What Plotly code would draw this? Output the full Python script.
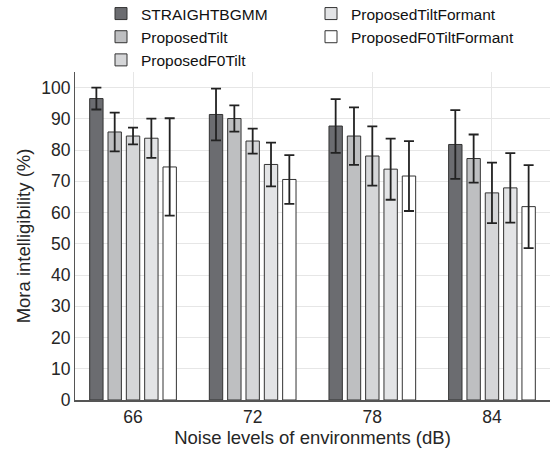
import plotly.graph_objects as go

categories = ["66", "72", "78", "84"]
series_names = ["STRAIGHTBGMM", "ProposedTilt", "ProposedF0Tilt",
                "ProposedTiltFormant", "ProposedF0TiltFormant"]

straight_mean = [96.5, 91.4, 87.7, 81.8]
straight_err = [3.5, 8.3, 8.6, 11.0]
tilt_mean = [85.8, 90.1, 84.5, 77.3]
tilt_err = [6.2, 4.2, 9.2, 7.7]
f0tilt_mean = [84.5, 82.9, 78.1, 66.3]
f0tilt_err = [2.7, 4.0, 9.5, 9.7]
tiltformant_mean = [83.8, 75.4, 73.9, 67.9]
tiltformant_err = [6.3, 7.0, 9.8, 11.1]
f0tiltformant_mean = [74.6, 70.6, 71.7, 61.9]
f0tiltformant_err = [15.6, 7.8, 11.2, 13.3]

means = [straight_mean, tilt_mean, f0tilt_mean, tiltformant_mean, f0tiltformant_mean]
errs = [straight_err, tilt_err, f0tilt_err, tiltformant_err, f0tiltformant_err]
fills = ["#6b6c70", "#bebfc1", "#d5d6d8", "#e3e4e6", "#ffffff"]
legends = ["legend", "legend", "legend", "legend2", "legend2"]

FONT = "Liberation Sans, Arial, Helvetica, sans-serif"
TXT = "#262626"

fig = go.Figure()
for name, m, e, c, lg in zip(series_names, means, errs, fills, legends):
    fig.add_trace(go.Bar(
        x=categories, y=m, name=name, legend=lg,
        marker=dict(color=c, line=dict(color="#333333", width=1)),
        error_y=dict(type="data", array=e, symmetric=True, visible=True,
                     color="#222222", thickness=1.8, width=5),
    ))

W, H = 550, 455
ml, mr, mt, mb = 75, 0, 72, 55
pw = W - ml - mr
ph = H - mt - mb
leg_top = (H - mb + 3) / ph

fig.update_layout(
    width=W, height=H,
    margin=dict(l=ml, r=mr, t=mt, b=mb, autoexpand=False),
    paper_bgcolor="white", plot_bgcolor="white",
    barmode="group", bargap=0.234, bargroupgap=0.27,
    font=dict(family=FONT, color=TXT, size=17),
    showlegend=True,
    legend=dict(x=26 / pw, y=leg_top,
                xanchor="left", yanchor="top", orientation="v",
                font=dict(size=15.5, family=FONT, color="#111111"),
                bgcolor="rgba(0,0,0,0)", tracegroupgap=0, itemwidth=30),
    legend2=dict(x=236 / pw, y=leg_top,
                 xanchor="left", yanchor="top", orientation="v",
                 font=dict(size=15.5, family=FONT, color="#111111"),
                 bgcolor="rgba(0,0,0,0)", tracegroupgap=0, itemwidth=30),
    xaxis=dict(
        type="category", range=[-0.485, 3.485], automargin=False,
        showgrid=True, gridcolor="#e6e6e6", gridwidth=1,
        showline=True, linecolor="#555555", linewidth=1.5,
        ticks="", tickfont=dict(size=17.5, color=TXT),
        title=dict(text="Noise levels of environments (dB)",
                   font=dict(size=18.5, color=TXT), standoff=2),
    ),
    yaxis=dict(
        range=[0, 105], tick0=0, dtick=10, automargin=False,
        showgrid=True, gridcolor="#e6e6e6", gridwidth=1,
        showline=True, linecolor="#555555", linewidth=1,
        zeroline=False, ticks="", tickfont=dict(size=17.5, color=TXT),
        title=dict(text="Mora intelligibility (%)",
                   font=dict(size=18.5, color=TXT), standoff=5),
    ),
)

fig.write_html("out.html", config={"displayModeBar": False},
               post_script="document.body.style.margin='0';")
